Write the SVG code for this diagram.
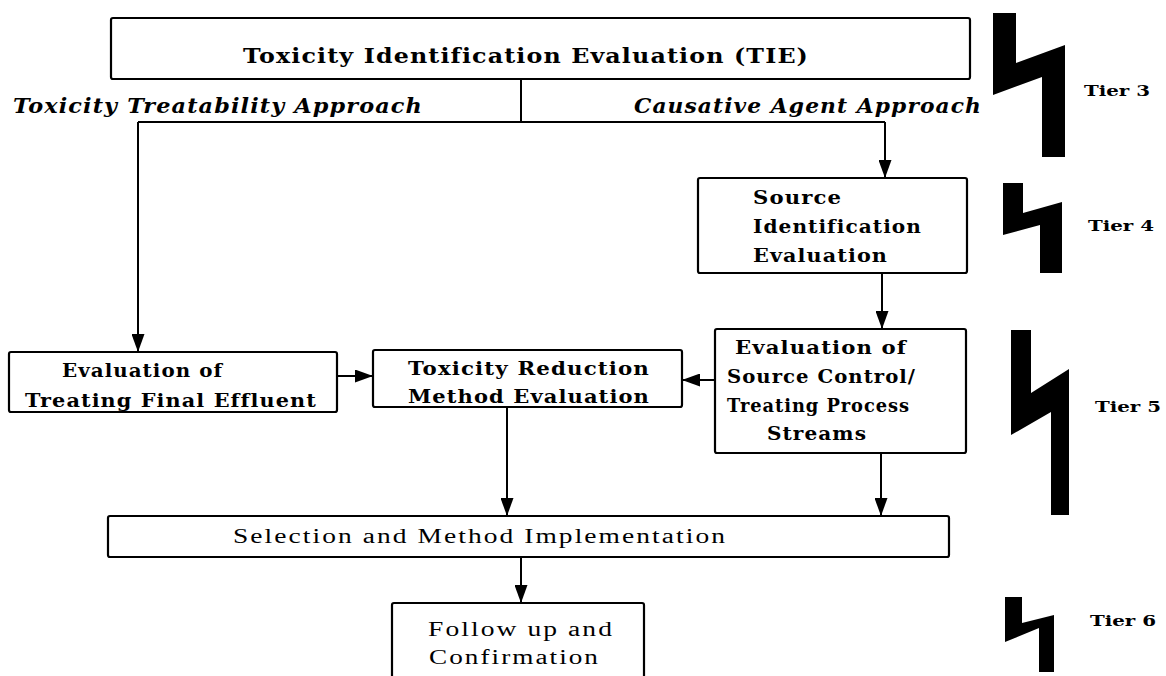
<svg xmlns="http://www.w3.org/2000/svg" width="1166" height="676" viewBox="0 0 1166 676">
<style>
.box{fill:#fff;stroke:#000;stroke-width:2.2}
.b{font-family:"DejaVu Serif","Liberation Serif",serif;font-weight:bold;font-size:19px;letter-spacing:1px;fill:#000}
.t{font-family:"DejaVu Serif","Liberation Serif",serif;font-weight:bold;font-size:21px;letter-spacing:1px;fill:#000}
.i{font-family:"DejaVu Serif","Liberation Serif",serif;font-weight:bold;font-style:italic;font-size:20px;letter-spacing:1px;fill:#000}
.r{font-family:"Liberation Serif","DejaVu Serif",serif;font-size:20px;letter-spacing:1.5px;fill:#000}
.tier{font-family:"DejaVu Serif","Liberation Serif",serif;font-weight:bold;font-size:15px;fill:#000}
.ln{fill:none;stroke:#000;stroke-width:2}
.bolt{fill:#000}
</style>
<defs>
<marker id="ah" markerUnits="userSpaceOnUse" markerWidth="18" markerHeight="13" refX="18" refY="6.5" orient="auto">
<path d="M0,0 L18,6.5 L0,13 z" fill="#000"/>
</marker>
</defs>
<rect width="1166" height="676" fill="#fff"/>

<g id="connectors">
<path class="ln" d="M521,79 V122"/>
<path class="ln" d="M138,122 H885"/>
<path class="ln" d="M138,122 V352" marker-end="url(#ah)"/>
<path class="ln" d="M885,122 V178" marker-end="url(#ah)"/>
<path class="ln" d="M882,273 V329" marker-end="url(#ah)"/>
<path class="ln" d="M337,376 H373" marker-end="url(#ah)"/>
<path class="ln" d="M715,380 H682" marker-end="url(#ah)"/>
<path class="ln" d="M507,407 V516" marker-end="url(#ah)"/>
<path class="ln" d="M881,453 V516" marker-end="url(#ah)"/>
<path class="ln" d="M521,557 V603" marker-end="url(#ah)"/>
</g>

<g id="node-tie">
<rect class="box" x="111" y="18" width="859" height="61" rx="2"/>
<text class="t" x="243" y="63" textLength="566" lengthAdjust="spacingAndGlyphs">Toxicity Identification Evaluation (TIE)</text>
</g>

<g id="label-treatability">
<text class="i" x="13" y="113" textLength="410" lengthAdjust="spacingAndGlyphs">Toxicity Treatability Approach</text>
</g>
<g id="label-causative">
<text class="i" x="634" y="113" textLength="348" lengthAdjust="spacingAndGlyphs">Causative Agent Approach</text>
</g>

<g id="node-source-id">
<rect class="box" x="698" y="178" width="269" height="95" rx="2"/>
<text class="b" x="753" y="204" textLength="89" lengthAdjust="spacingAndGlyphs">Source</text>
<text class="b" x="753" y="233" textLength="169" lengthAdjust="spacingAndGlyphs">Identification</text>
<text class="b" x="753" y="262" textLength="135" lengthAdjust="spacingAndGlyphs">Evaluation</text>
</g>

<g id="node-final-effluent">
<rect class="box" x="9" y="352" width="328" height="60" rx="2"/>
<text class="b" x="62" y="377" textLength="161" lengthAdjust="spacingAndGlyphs">Evaluation of</text>
<text class="b" x="25" y="407" textLength="292" lengthAdjust="spacingAndGlyphs">Treating Final Effluent</text>
</g>

<g id="node-reduction">
<rect class="box" x="373" y="350" width="309" height="57" rx="2"/>
<text class="b" x="408" y="375" textLength="242" lengthAdjust="spacingAndGlyphs">Toxicity Reduction</text>
<text class="b" x="408" y="403" textLength="242" lengthAdjust="spacingAndGlyphs">Method Evaluation</text>
</g>

<g id="node-source-control">
<rect class="box" x="715" y="329" width="251" height="124" rx="2"/>
<text class="b" x="735" y="354" textLength="172" lengthAdjust="spacingAndGlyphs">Evaluation of</text>
<text class="b" x="727" y="383" textLength="189" lengthAdjust="spacingAndGlyphs">Source Control/</text>
<text class="b" x="727" y="412" textLength="183" lengthAdjust="spacingAndGlyphs">Treating Process</text>
<text class="b" x="767" y="440" textLength="100" lengthAdjust="spacingAndGlyphs">Streams</text>
</g>

<g id="node-selection">
<rect class="box" x="108" y="516" width="841" height="41" rx="2"/>
<text class="r" x="233" y="543" textLength="494" lengthAdjust="spacingAndGlyphs">Selection and Method Implementation</text>
</g>

<g id="node-followup">
<rect class="box" x="392" y="603" width="252" height="90" rx="2"/>
<text class="r" x="428" y="636" textLength="186" lengthAdjust="spacingAndGlyphs">Follow up and</text>
<text class="r" x="429" y="664" textLength="171" lengthAdjust="spacingAndGlyphs">Confirmation</text>
</g>

<g id="tier3">
<polygon class="bolt" points="993,13 1016,13 1016,63 1065,45 1065,157 1042,157 1042,77 993,95"/>
<text class="tier" x="1084" y="96" textLength="66" lengthAdjust="spacingAndGlyphs">Tier 3</text>
</g>
<g id="tier4">
<polygon class="bolt" points="1003,183 1023,183 1023,213 1062,202 1062,273 1040,273 1040,225 1003,235"/>
<text class="tier" x="1088" y="231" textLength="66" lengthAdjust="spacingAndGlyphs">Tier 4</text>
</g>
<g id="tier5">
<polygon class="bolt" points="1011,330 1031,330 1031,393 1069,369 1069,515 1051,515 1051,412 1011,435"/>
<text class="tier" x="1095" y="412" textLength="66" lengthAdjust="spacingAndGlyphs">Tier 5</text>
</g>
<g id="tier6">
<polygon class="bolt" points="1005,597 1022,597 1022,623 1054,615 1054,672 1039,672 1039,628 1005,642"/>
<text class="tier" x="1090" y="626" textLength="66" lengthAdjust="spacingAndGlyphs">Tier 6</text>
</g>
</svg>
